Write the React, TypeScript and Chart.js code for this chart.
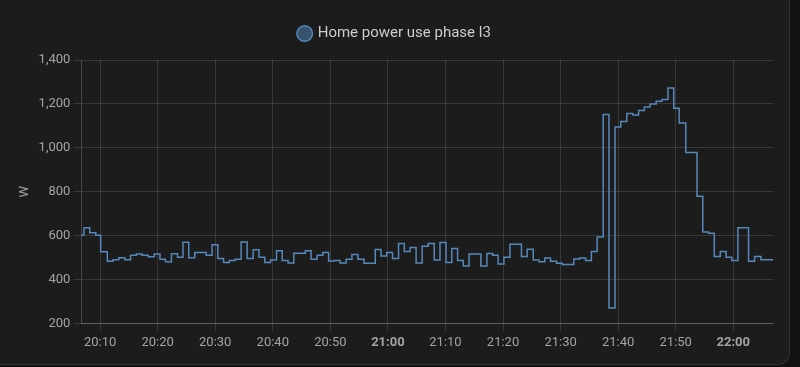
import React, { useEffect, useRef } from "react";
import { Chart, registerables } from "chart.js";

Chart.register(...registerables);

const seriesLabel = "Home power use phase l3";
const axisTitle = "W";

// minutes after 20:00 at which the reading changes
const changeMinutes = [
  6.75, 7.2, 8.2, 9.25, 10.1, 11.25, 12.25, 13.25, 14.3, 15.3, 16.3, 17.3, 18.35, 19.4, 20.4,
  21.35, 22.4, 23.45, 24.4, 25.4, 26.45, 28.45, 29.45, 30.45, 31.45, 32.45, 33.45, 34.5, 35.55,
  36.6, 37.6, 38.6, 39.6, 40.65, 41.65, 42.65, 43.65, 45.65, 46.65, 47.7, 48.7, 49.7, 50.7, 51.7,
  52.75, 53.75, 54.8, 55.85, 57.8, 58.8, 59.8, 60.8, 61.85, 62.85, 63.85, 64.9, 65.95, 67.0, 68.05,
  69.05, 70.1, 71.1, 72.1, 73.1, 74.1, 76.15, 77.2, 78.2, 79.15, 80.15, 81.2, 83.2, 84.2, 85.25,
  86.25, 87.25, 88.25, 89.3, 90.3, 92.3, 93.3, 94.35, 95.35, 96.35, 97.4, 98.4, 99.45, 100.45,
  101.5, 102.55, 103.55, 104.55, 105.55, 106.6, 107.6, 108.65, 109.65, 110.6, 111.75, 113.7,
  114.7, 115.7, 116.7, 117.75, 118.75, 119.75, 120.8, 122.65, 123.7, 124.8, 125.85, 126.9,
];

const wattValues = [
  595, 603, 636, 613, 602, 526, 483, 490, 499, 490, 511, 516, 510, 504, 516,
  492, 481, 517, 501, 570, 499, 523, 510, 558, 496, 478, 486, 492, 571,
  496, 535, 501, 477, 489, 531, 486, 475, 520, 531, 492, 510, 523, 484, 487,
  475, 492, 514, 492, 474, 537, 507, 523, 496, 564, 528, 546, 475, 552, 564,
  489, 568, 478, 541, 486, 462, 516, 462, 519, 511, 471, 501, 561, 505, 538,
  489, 481, 498, 483, 474, 468, 493, 498, 486, 528, 594, 1152, 270, 1095,
  1120, 1156, 1150, 1170, 1186, 1200, 1212, 1220, 1272, 1180, 1113, 979,
  779, 616, 611, 505, 528, 501, 486, 636, 483, 505, 490, 490,
];

const xTickMinutes = [10, 20, 30, 40, 50, 60, 70, 80, 90, 100, 110, 120];
const yTickValues = [200, 400, 600, 800, 1000, 1200, 1400];

const LINE = "#5588bb";
const GRID = "rgba(255,255,255,0.13)";
const TICK_TEXT = "#a3a3a3";

function fmtTime(m: number): string {
  const h = 20 + Math.floor(m / 60);
  const mm = Math.round(m % 60);
  return `${h}:${mm < 10 ? "0" + mm : mm}`;
}

const legendGap = {
  id: "legendGap",
  beforeInit(chart: any) {
    const legend = chart.legend;
    if (!legend) return;
    const orig = legend.fit;
    legend.fit = function () {
      orig.call(this);
      this.height += 9;
    };
  },
};

export default function App() {
  const ref = useRef<HTMLCanvasElement | null>(null);

  useEffect(() => {
    document.body.style.margin = "0";
    document.body.style.background = "#111111";
    const canvas = ref.current;
    if (!canvas) return;
    const data = changeMinutes.map((x, i) => ({ x, y: wattValues[i] }));
    const chart = new Chart(canvas, {
      type: "line",
      data: {
        datasets: [
          {
            label: seriesLabel,
            data,
            stepped: "after",
            borderColor: LINE,
            backgroundColor: "rgba(85,136,187,0.5)",
            borderWidth: 1.5,
            pointRadius: 0,
            pointHoverRadius: 0,
            fill: false,
          },
        ],
      },
      plugins: [legendGap],
      options: {
        animation: false,
        responsive: false,
        maintainAspectRatio: false,
        layout: { padding: { top: 16, left: 17, right: 27, bottom: 12 } },
        plugins: {
          tooltip: { enabled: false },
          legend: {
            display: true,
            position: "top",
            labels: {
              usePointStyle: true,
              pointStyle: "circle",
              boxHeight: 11,
              boxWidth: 11,
              color: "#cdcdcd",
              font: { family: "Roboto", size: 15 },
              padding: 10,
            },
          },
        },
        scales: {
          x: {
            type: "linear",
            min: changeMinutes[0],
            max: changeMinutes[changeMinutes.length - 1],
            afterBuildTicks: (scale: any) => {
              scale.ticks = xTickMinutes.map((v) => ({ value: v }));
            },
            ticks: {
              autoSkip: false,
              maxRotation: 0,
              color: TICK_TEXT,
              padding: 4,
              font: (ctx: any) => ({
                family: "Roboto",
                size: 13,
                weight: ctx.tick && ctx.tick.value % 60 === 0 ? "bold" : "normal",
              }),
              callback: (v: any) => fmtTime(Number(v)),
            },
            grid: { color: GRID, tickLength: 8, drawTicks: true },
            border: { color: "rgba(255,255,255,0.2)" },
          },
          y: {
            type: "linear",
            min: yTickValues[0],
            max: yTickValues[yTickValues.length - 1],
            afterBuildTicks: (scale: any) => {
              scale.ticks = yTickValues.map((v) => ({ value: v }));
            },
            title: {
              display: true,
              text: axisTitle,
              color: TICK_TEXT,
              font: { family: "Roboto", size: 13 },
              padding: { top: 0, bottom: 3 },
            },
            ticks: {
              color: TICK_TEXT,
              padding: 3,
              font: { family: "Roboto", size: 13 },
              callback: (v: any) => Number(v).toLocaleString("en-US"),
            },
            grid: { color: GRID, tickLength: 8 },
            border: { color: "rgba(255,255,255,0.2)" },
          },
        },
      },
    });
    return () => chart.destroy();
  }, []);

  return (
    <div
      style={{
        position: "fixed",
        left: 0,
        top: 0,
        width: 800,
        height: 367,
        background: "#111111",
        overflow: "hidden",
      }}
    >
      <div
        style={{
          position: "absolute",
          left: -12,
          top: -12,
          width: 802,
          height: 377,
          boxSizing: "border-box",
          background: "#1c1c1c",
          border: "1px solid rgba(225,225,225,0.12)",
          borderRadius: 12,
        }}
      />
      <canvas
        ref={ref}
        width={800}
        height={367}
        style={{ position: "absolute", left: 0, top: 0, width: 800, height: 367 }}
      />
    </div>
  );
}
